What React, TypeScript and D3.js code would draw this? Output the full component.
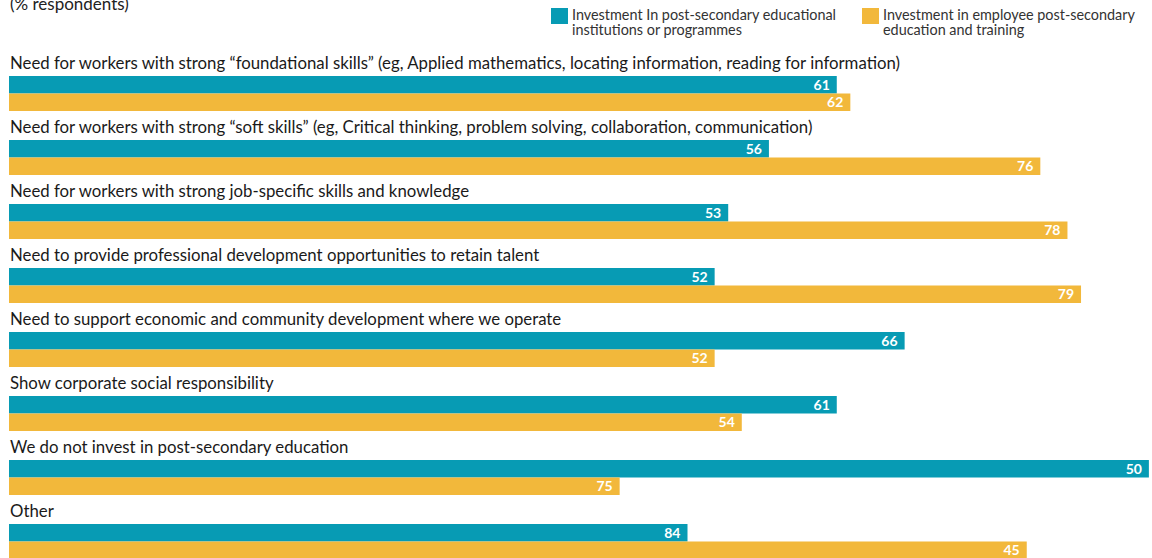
import * as d3 from 'd3';

const categories = [
  'Need for workers with strong “foundational skills” (eg, Applied mathematics, locating information, reading for information)',
  'Need for workers with strong “soft skills” (eg, Critical thinking, problem solving, collaboration, communication)',
  'Need for workers with strong job-specific skills and knowledge',
  'Need to provide professional development opportunities to retain talent',
  'Need to support economic and community development where we operate',
  'Show corporate social responsibility',
  'We do not invest in post-secondary education',
  'Other',
];

const seriesNames = [
  'Investment In post-secondary educational|institutions or programmes',
  'Investment in employee post-secondary|education and training',
];

// bar lengths as drawn in the source
const institutionValues = [61, 56, 53, 52, 66, 61, 84, 50];
const employeeValues = [62, 76, 78, 79, 52, 54, 45, 75];
// numbers printed on the bars (the source swaps the last two rows)
const institutionLabels = ['61', '56', '53', '52', '66', '61', '50', '84'];
const employeeLabels = ['62', '76', '78', '79', '52', '54', '75', '45'];

const colors = ['#079bb4', '#f2b83b'];
const W = 1152;
const H = 558;
const font = 'Lato, "Open Sans", sans-serif';

export default function App() {
  const x = d3.scaleLinear().domain([0, 100]).range([9, 9 + 1357]);
  const y = d3.scaleBand<string>().domain(categories).range([52, 52 + 64 * categories.length]);
  const sub = d3.scaleBand<number>().domain([0, 1]).range([24, 59]);

  const series = [
    { values: institutionValues, labels: institutionLabels },
    { values: employeeValues, labels: employeeLabels },
  ];

  return (
    <div style={{ position: 'fixed', left: 0, top: 0, width: W, height: H, overflow: 'hidden', background: '#fff' }}>
      <svg width={W} height={H} style={{ display: 'block', fontFamily: font }}>
        <text x={10} y={10} fontSize={17} fill="#222">(% respondents)</text>

        {seriesNames.map((name, i) => {
          const lx = i === 0 ? 551 : 862;
          return (
            <g key={name}>
              <rect x={lx} y={8} width={17} height={16} fill={colors[i]} />
              {name.split('|').map((line, j) => (
                <text key={j} x={lx + 21} y={20 + j * 15} fontSize={14.4} fill="#333">{line}</text>
              ))}
            </g>
          );
        })}

        {categories.map((c, ci) => {
          const top = y(c) ?? 0;
          return (
            <g key={c}>
              <text x={10} y={top + 17} fontSize={16.8} fill="#1a1a1a">{c}</text>
              {series.map((s, si) => {
                const by = top + (sub(si) ?? 0);
                const bw = x(s.values[ci]) - x(0);
                return (
                  <g key={si}>
                    <rect x={x(0)} y={by} width={bw} height={sub.bandwidth()} fill={colors[si]} />
                    <text
                      x={x(s.values[ci]) - 7}
                      y={by + sub.bandwidth() / 2 + 5}
                      textAnchor="end"
                      fontSize={14}
                      fontWeight="bold"
                      fill="#fff"
                    >
                      {s.labels[ci]}
                    </text>
                  </g>
                );
              })}
            </g>
          );
        })}
      </svg>
    </div>
  );
}
